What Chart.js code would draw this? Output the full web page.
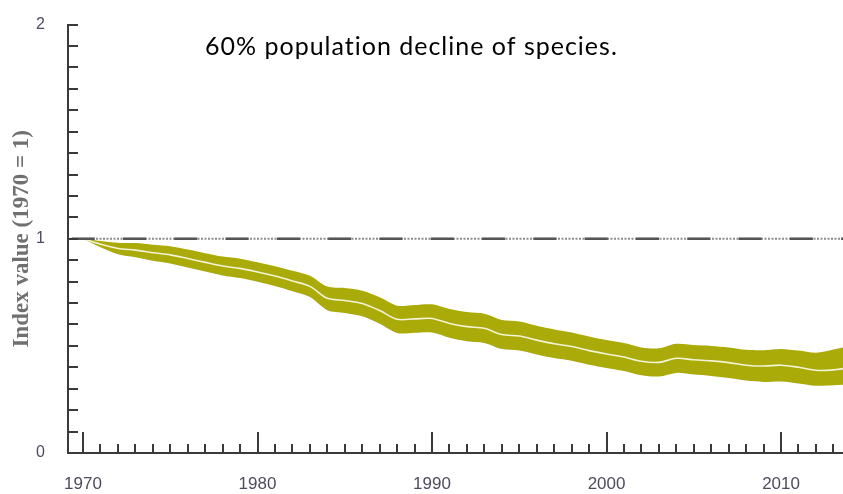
<!DOCTYPE html>
<html><head><meta charset="utf-8">
<script src="https://cdn.jsdelivr.net/npm/chart.js@4/dist/chart.umd.min.js"></script>
<style>html,body{margin:0;padding:0;background:#fff}#wrap{width:843px;height:494px}</style>
</head><body><div id="wrap"><canvas id="c" width="843" height="494"></canvas></div>
<script>
const years = [1970,1971,1972,1973,1974,1975,1976,1977,1978,1979,1980,1981,1982,1983,1984,1985,1986,1987,1988,1989,1990,1991,1992,1993,1994,1995,1996,1997,1998,1999,2000,2001,2002,2003,2004,2005,2006,2007,2008,2009,2010,2011,2012,2013,2014];
const indexCentral = [1.000,0.975,0.955,0.947,0.935,0.925,0.908,0.890,0.873,0.862,0.845,0.826,0.803,0.778,0.722,0.712,0.698,0.665,0.624,0.626,0.628,0.605,0.590,0.582,0.553,0.546,0.527,0.510,0.497,0.478,0.462,0.448,0.428,0.423,0.442,0.435,0.430,0.422,0.410,0.406,0.410,0.400,0.386,0.388,0.400];
const indexUpper = [1.000,0.990,0.982,0.980,0.972,0.965,0.950,0.933,0.917,0.907,0.890,0.872,0.851,0.828,0.777,0.770,0.758,0.727,0.688,0.691,0.694,0.672,0.658,0.650,0.621,0.614,0.594,0.577,0.563,0.544,0.527,0.513,0.493,0.489,0.510,0.504,0.500,0.493,0.482,0.480,0.486,0.478,0.468,0.483,0.500];
const indexLower = [1.000,0.960,0.928,0.914,0.898,0.885,0.866,0.847,0.829,0.817,0.800,0.780,0.755,0.728,0.667,0.654,0.638,0.603,0.560,0.561,0.562,0.538,0.522,0.514,0.485,0.478,0.460,0.443,0.431,0.412,0.397,0.383,0.363,0.357,0.374,0.366,0.360,0.350,0.338,0.332,0.334,0.325,0.314,0.316,0.320];
const xTickYears = [1970,1980,1990,2000,2010];
const yTickLabels = [0,1,2];
const baselineValue = 1;
const titleText = '60% population decline of species.';
const yAxisTitle = 'Index value (1970 = 1)';

const X_MIN = 1969.14, X_MAX = 2013.55;
const toXY = arr => arr.map((v,i)=>({x:years[i], y:v}));

const tickPlugin = {
  id:'inwardTicks',
  afterDatasetsDraw(chart){
    const ctx = chart.ctx, xs = chart.scales.x, ys = chart.scales.y, ca = chart.chartArea;
    ctx.save();
    ctx.strokeStyle = '#3a3a3a';
    ctx.lineWidth = 2;
    ctx.beginPath();
    for(let k=1;k<=20;k++){
      const py = Math.round(ys.getPixelForValue(k/10));
      ctx.moveTo(ca.left, py); ctx.lineTo(ca.left+10, py);
    }
    for(let yr=Math.ceil(X_MIN); yr<=X_MAX; yr++){
      const px = Math.round(xs.getPixelForValue(yr));
      const len = (yr%10===0) ? 21 : 9;
      ctx.moveTo(px, ca.bottom); ctx.lineTo(px, ca.bottom-len);
    }
    ctx.stroke();
    ctx.fillStyle = '#000';
    ctx.font = '25px Lato';
    try { ctx.letterSpacing = '1px'; } catch(e) {}
    ctx.textBaseline = 'alphabetic';
    ctx.fillText(titleText, 205, 55);
    ctx.restore();
  }
};

new Chart(document.getElementById('c'), {
  type:'line',
  data:{
    datasets:[
      {data:toXY(indexUpper), borderWidth:0, backgroundColor:'#aaaa08', fill:'+1', tension:0.3, pointRadius:0, order:3},
      {data:toXY(indexLower), borderWidth:0, backgroundColor:'#aaaa08', fill:false, tension:0.3, pointRadius:0, order:3},
      {data:toXY(indexCentral), borderWidth:1.6, borderColor:'#f3f3d6', fill:false, tension:0.3, pointRadius:0, order:2},
      {data:[{x:X_MIN,y:baselineValue},{x:X_MAX,y:baselineValue}], borderWidth:2, borderColor:'#8c8c8c', borderDash:[2,1.5], fill:false, pointRadius:0, order:1},
      {data:[{x:X_MIN,y:baselineValue},{x:X_MAX,y:baselineValue}], borderWidth:2.5, borderColor:'#555555', borderDash:[23,28.3], borderDashOffset:47.6, fill:false, pointRadius:0, order:0}
    ]
  },
  options:{
    responsive:false, devicePixelRatio:1, animation:false,
    layout:{padding:{top:21,right:0,bottom:0,left:0}},
    plugins:{legend:{display:false}, tooltip:{enabled:false}, title:{display:false}},
    scales:{
      x:{type:'linear', min:X_MIN, max:X_MAX,
        afterBuildTicks:s=>{s.ticks = xTickYears.map(v=>({value:v}));},
        afterFit:s=>{s.height = 41;},
        grid:{display:false},
        border:{display:true, color:'#3a3a3a', width:2},
        ticks:{color:'#4c4c5e', padding:13, maxRotation:0, autoSkip:false, font:{family:'Liberation Sans', size:17}, callback:v=>String(v)}
      },
      y:{type:'linear', min:0, max:2,
        afterBuildTicks:s=>{s.ticks = yTickLabels.map(v=>({value:v}));},
        afterFit:s=>{s.width = 68;},
        grid:{display:false},
        border:{display:true, color:'#3a3a3a', width:2},
        ticks:{color:'#4c4c5e', padding:15, font:{family:'Liberation Sans', size:16}, callback:v=>String(v)},
        title:{display:true, text:yAxisTitle, color:'#707070', padding:{top:8,bottom:0}, font:{family:'Liberation Serif', size:23, weight:'bold'}}
      }
    }
  },
  plugins:[tickPlugin]
});
</script>
</body></html>
